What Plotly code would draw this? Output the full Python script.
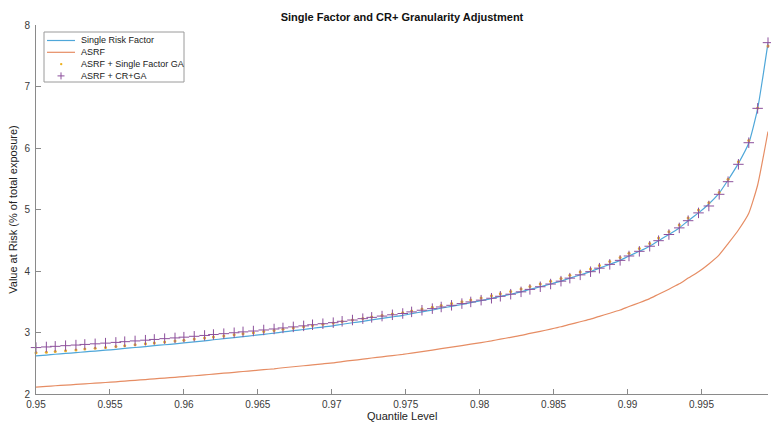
import plotly.graph_objects as go

# ---------------- data ----------------
quantile = [0.9500, 0.9507, 0.9513, 0.9520, 0.9527, 0.9533, 0.9540, 0.9547, 0.9554, 0.9560,
            0.9567, 0.9574, 0.9580, 0.9587, 0.9594, 0.9600, 0.9607, 0.9614, 0.9620, 0.9627,
            0.9634, 0.9640, 0.9647, 0.9654, 0.9661, 0.9667, 0.9674, 0.9681, 0.9687, 0.9694,
            0.9701, 0.9707, 0.9714, 0.9721, 0.9727, 0.9734, 0.9741, 0.9748, 0.9754, 0.9761,
            0.9768, 0.9774, 0.9781, 0.9788, 0.9794, 0.9801, 0.9808, 0.9814, 0.9821, 0.9828,
            0.9834, 0.9841, 0.9848, 0.9855, 0.9861, 0.9868, 0.9875, 0.9881, 0.9888, 0.9895,
            0.9901, 0.9908, 0.9915, 0.9921, 0.9928, 0.9935, 0.9941, 0.9948, 0.9955, 0.9962,
            0.9968, 0.9975, 0.9982, 0.9988, 0.9995]

single_risk_factor = [2.620, 2.633, 2.646, 2.659, 2.672, 2.685, 2.698, 2.712, 2.726, 2.741,
                      2.756, 2.771, 2.786, 2.801, 2.816, 2.831, 2.848, 2.865, 2.882, 2.899,
                      2.917, 2.934, 2.951, 2.970, 2.989, 3.009, 3.029, 3.049, 3.069, 3.089,
                      3.109, 3.134, 3.158, 3.182, 3.206, 3.230, 3.254, 3.278, 3.306, 3.336,
                      3.365, 3.395, 3.425, 3.455, 3.485, 3.517, 3.551, 3.586, 3.622, 3.661,
                      3.701, 3.744, 3.788, 3.835, 3.884, 3.937, 3.989, 4.046, 4.108, 4.173,
                      4.244, 4.320, 4.403, 4.493, 4.593, 4.701, 4.818, 4.945, 5.090, 5.265,
                      5.480, 5.750, 6.080, 6.640, 7.710]

asrf = [2.113, 2.123, 2.134, 2.144, 2.155, 2.165, 2.176, 2.187, 2.198, 2.210,
        2.223, 2.235, 2.247, 2.259, 2.271, 2.283, 2.297, 2.310, 2.324, 2.338,
        2.352, 2.366, 2.380, 2.395, 2.410, 2.427, 2.443, 2.459, 2.475, 2.491,
        2.507, 2.527, 2.547, 2.566, 2.585, 2.605, 2.624, 2.644, 2.666, 2.690,
        2.714, 2.738, 2.762, 2.786, 2.810, 2.836, 2.864, 2.892, 2.921, 2.952,
        2.985, 3.019, 3.055, 3.093, 3.132, 3.175, 3.217, 3.263, 3.313, 3.365,
        3.423, 3.484, 3.551, 3.623, 3.704, 3.791, 3.885, 3.988, 4.115, 4.263,
        4.444, 4.667, 4.939, 5.398, 6.268]

asrf_single_factor_ga = [2.672, 2.678, 2.691, 2.704, 2.717, 2.730, 2.743, 2.757, 2.771, 2.786,
                         2.801, 2.816, 2.831, 2.846, 2.861, 2.876, 2.893, 2.910, 2.927, 2.944,
                         2.962, 2.979, 2.996, 3.015, 3.034, 3.054, 3.074, 3.094, 3.114, 3.134,
                         3.154, 3.179, 3.203, 3.227, 3.251, 3.275, 3.299, 3.323, 3.351, 3.381,
                         3.410, 3.440, 3.470, 3.500, 3.530, 3.562, 3.596, 3.631, 3.667, 3.706,
                         3.746, 3.789, 3.833, 3.880, 3.929, 3.982, 4.034, 4.091, 4.153, 4.218,
                         4.289, 4.365, 4.448, 4.538, 4.638, 4.746, 4.863, 4.990, 5.111, 5.277,
                         5.492, 5.775, 6.120, 6.650, 7.660]

asrf_crplus_ga = [2.755, 2.765, 2.775, 2.786, 2.796, 2.806, 2.816, 2.827, 2.839, 2.851,
                  2.863, 2.875, 2.887, 2.900, 2.912, 2.924, 2.938, 2.952, 2.967, 2.981,
                  2.996, 3.010, 3.024, 3.041, 3.057, 3.074, 3.091, 3.108, 3.126, 3.143,
                  3.160, 3.182, 3.203, 3.225, 3.246, 3.267, 3.288, 3.309, 3.335, 3.362,
                  3.388, 3.415, 3.442, 3.470, 3.497, 3.526, 3.557, 3.589, 3.623, 3.661,
                  3.701, 3.744, 3.788, 3.835, 3.884, 3.937, 3.989, 4.046, 4.108, 4.173,
                  4.244, 4.320, 4.403, 4.493, 4.593, 4.701, 4.818, 4.945, 5.057, 5.247,
                  5.452, 5.735, 6.086, 6.645, 7.713]

x_tick_vals = [0.95, 0.955, 0.96, 0.965, 0.97, 0.975, 0.98, 0.985, 0.99, 0.995]
x_tick_text = ["0.95", "0.955", "0.96", "0.965", "0.97", "0.975", "0.98", "0.985", "0.99", "0.995"]
y_tick_vals = [2, 3, 4, 5, 6, 7, 8]

legend_labels = ["Single Risk Factor", "ASRF", "ASRF + Single Factor GA", "ASRF + CR+GA"]

# ---------------- style ----------------
FONT = "Liberation Sans, Arial, Helvetica, sans-serif"
C_BLUE = "#4fa7d9"
C_ORANGE = "#e68d64"
C_YELLOW = "#edb120"
C_PURPLE = "#8c509c"
AX = "#8a8a8a"
TXT = "#3a3a3a"

W, H = 771, 423
ML, MR, MT, MB = 36, 3, 25, 29

fig = go.Figure()
fig.add_trace(go.Scatter(x=quantile, y=single_risk_factor, mode="lines",
                         line=dict(color=C_BLUE, width=1.2, shape="spline", smoothing=0.5),
                         name=legend_labels[0], cliponaxis=False))
fig.add_trace(go.Scatter(x=quantile, y=asrf, mode="lines",
                         line=dict(color=C_ORANGE, width=1.2, shape="spline", smoothing=0.5),
                         name=legend_labels[1], cliponaxis=False))
fig.add_trace(go.Scatter(x=quantile, y=asrf_single_factor_ga, mode="markers",
                         marker=dict(symbol="circle", size=3, color=C_YELLOW, line=dict(width=0)),
                         name=legend_labels[2], cliponaxis=False))
fig.add_trace(go.Scatter(x=quantile, y=asrf_crplus_ga, mode="markers",
                         marker=dict(symbol="cross-thin", size=7.5, color=C_PURPLE,
                                     line=dict(color=C_PURPLE, width=1)),
                         name=legend_labels[3], cliponaxis=False))

# ---------------- custom compact legend (MATLAB style) ----------------
pw = W - ML - MR
ph = H - MT - MB


def px(xpix):
    return (xpix - ML) / pw


def py(ypix):
    return (H - MB - ypix) / ph


shapes = [dict(type="rect", xref="paper", yref="paper",
               x0=px(44), x1=px(184), y0=py(82), y1=py(32),
               line=dict(color="#9a9a9a", width=1), fillcolor="white", layer="above")]
annotations = []
row_y = [40.5, 52.3, 64.1, 75.9]
for k, lab in enumerate(legend_labels):
    yy = py(row_y[k])
    if k == 0 or k == 1:
        shapes.append(dict(type="line", xref="paper", yref="paper",
                           x0=px(47), x1=px(75), y0=yy, y1=yy, layer="above",
                           line=dict(color=C_BLUE if k == 0 else C_ORANGE, width=1.2)))
    elif k == 2:
        shapes.append(dict(type="circle", xref="paper", yref="paper",
                           x0=px(60), x1=px(62.4), y0=py(row_y[k] + 1.2), y1=py(row_y[k] - 1.2),
                           layer="above", fillcolor=C_YELLOW, line=dict(width=0)))
    else:
        shapes.append(dict(type="line", xref="paper", yref="paper",
                           x0=px(57.5), x1=px(64.5), y0=yy, y1=yy, layer="above",
                           line=dict(color=C_PURPLE, width=1)))
        shapes.append(dict(type="line", xref="paper", yref="paper",
                           x0=px(61), x1=px(61), y0=py(row_y[k] + 3.5), y1=py(row_y[k] - 3.5),
                           layer="above", line=dict(color=C_PURPLE, width=1)))
    annotations.append(dict(xref="paper", yref="paper", x=px(79), y=yy,
                            xanchor="left", yanchor="middle", showarrow=False, text=lab,
                            font=dict(family=FONT, size=9, color="#1a1a1a")))

# x-axis title, placed low like MATLAB's but kept fully inside the page
annotations.append(dict(xref="paper", yref="paper", x=0.5, y=py(415.5),
                        xanchor="center", yanchor="middle", showarrow=False,
                        text="Quantile Level",
                        font=dict(family=FONT, size=11, color="#222222")))

fig.update_layout(
    width=W, height=H,
    margin=dict(l=ML, r=MR, t=MT, b=MB, pad=0),
    paper_bgcolor="white", plot_bgcolor="white",
    showlegend=False,
    font=dict(family=FONT, size=10, color=TXT),
    title=dict(text="<b>Single Factor and CR+ Granularity Adjustment</b>",
               x=0.5, xref="paper", xanchor="center",
               y=1 - 17 / H, yref="container", yanchor="middle",
               font=dict(family=FONT, size=11, color="#111111")),
    xaxis=dict(range=[0.95, 0.9995], tickvals=x_tick_vals, ticktext=x_tick_text,
               showline=True, linecolor=AX, linewidth=1, ticks="inside", ticklen=5,
               tickcolor=AX, tickwidth=1, showgrid=False, zeroline=False, mirror=False,
               tickfont=dict(family=FONT, size=10, color=TXT), ticklabelstandoff=1),
    yaxis=dict(range=[2, 8], tickvals=y_tick_vals,
               showline=True, linecolor=AX, linewidth=1, ticks="inside", ticklen=5,
               tickcolor=AX, tickwidth=1, showgrid=False, zeroline=False, mirror=False,
               tickfont=dict(family=FONT, size=10, color=TXT), ticklabelstandoff=3,
               title=dict(text="Value at Risk (% of total exposure)", standoff=4,
                          font=dict(family=FONT, size=11, color="#222222"))),
    shapes=shapes,
    annotations=annotations,
)

fig.write_html("out.html")
